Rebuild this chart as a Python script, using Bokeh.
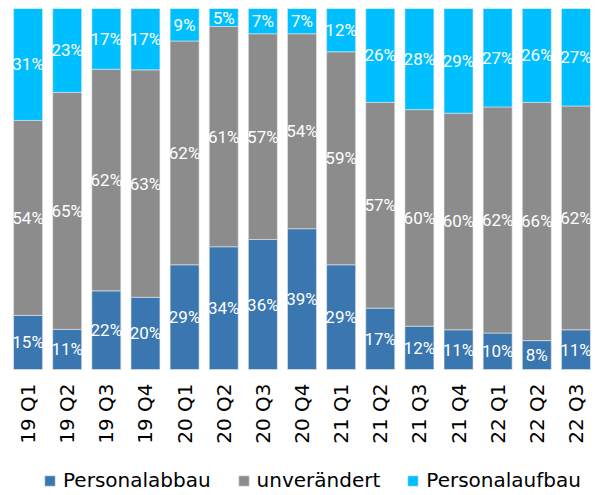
import math
from bokeh.plotting import figure
from bokeh.models import ColumnDataSource, Legend, LegendItem, FactorRange
from bokeh.core.properties import value
from bokeh.embed import file_html
from bokeh.resources import INLINE

quarters = ["19 Q1", "19 Q2", "19 Q3", "19 Q4", "20 Q1", "20 Q2", "20 Q3", "20 Q4",
            "21 Q1", "21 Q2", "21 Q3", "21 Q4", "22 Q1", "22 Q2", "22 Q3"]
abbau = [15, 11, 22, 20, 29, 34, 36, 39, 29, 17, 12, 11, 10, 8, 11]
unveraendert = [54, 65, 62, 63, 62, 61, 57, 54, 59, 57, 60, 60, 62, 66, 62]
aufbau = [31, 23, 17, 17, 9, 5, 7, 7, 12, 26, 28, 29, 27, 26, 27]
series_names = ["Personalabbau", "unverändert", "Personalaufbau"]
colors = ["#3A76AF", "#8C8C8C", "#00BFFF"]

series = [abbau, unveraendert, aufbau]
totals = [a + b + c for a, b, c in zip(*series)]

data = {"q": quarters}
cum = [0.0] * len(quarters)
for i, s in enumerate(series):
    bot = list(cum)
    top = [c + v / t for c, v, t in zip(cum, s, totals)]
    data[f"b{i}"] = bot
    data[f"t{i}"] = top
    data[f"m{i}"] = [(b + t) / 2 for b, t in zip(bot, top)]
    data[f"l{i}"] = [f"{v}%" for v in s]
    cum = top

# layout (pixels): bar area 361 px tall, 126 px below it for category labels + legend
BAR_PX = 361.0
BELOW_PX = 126.0
LABEL_GAP_PX = 14.0
data["ly"] = [-LABEL_GAP_PX / BAR_PX] * len(quarters)
src = ColumnDataSource(data)

p = figure(x_range=FactorRange(*quarters), y_range=(-BELOW_PX / BAR_PX, 1),
           width=601, height=495, output_backend="svg", toolbar_location=None,
           min_border_left=8, min_border_right=6, min_border_top=8, min_border_bottom=0)

renderers = []
for i in range(3):
    r = p.vbar(x="q", bottom=f"b{i}", top=f"t{i}", width=0.74, source=src,
               fill_color=colors[i], line_color="#E6E6E6", line_width=0.6)
    renderers.append(r)
for i in range(3):
    p.text(x="q", y=f"m{i}", text=f"l{i}", source=src, text_color="white",
           text_align="center", text_baseline="middle",
           text_font=value("Roboto"), text_font_size="17px")

# category labels (rotated, reading bottom-to-top)
p.text(x="q", y="ly", text="q", source=src, angle=math.pi / 2,
       text_align="right", text_baseline="middle", text_color="black",
       text_font=value("DejaVu Sans"), text_font_size="20px")

p.xgrid.visible = False
p.ygrid.visible = False
p.xaxis.visible = False
p.yaxis.visible = False
p.outline_line_color = None

legend = Legend(items=[LegendItem(label=n, renderers=[r]) for n, r in zip(series_names, renderers)],
                orientation="horizontal", location=(35, 3),
                glyph_width=13, glyph_height=13, label_standoff=7, spacing=26,
                margin=0, padding=0, border_line_color=None, background_fill_alpha=0,
                label_text_font="DejaVu Sans", label_text_font_size="20px",
                label_text_color="black")
p.add_layout(legend, "center")

open("out.html", "w").write(file_html(p, INLINE))
